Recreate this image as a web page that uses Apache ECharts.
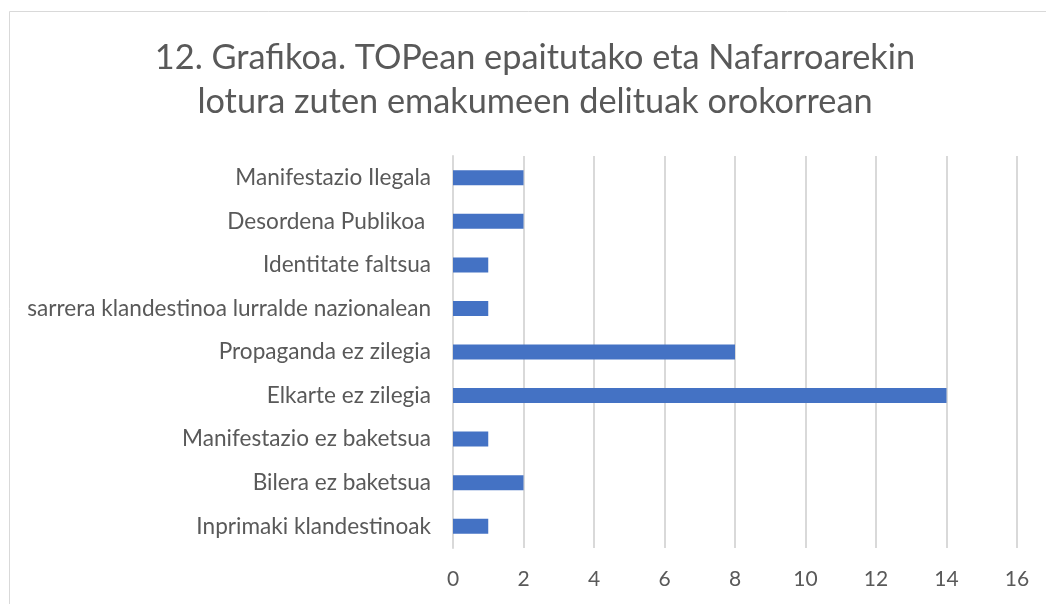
<!DOCTYPE html>
<html>
<head>
<meta charset="utf-8">
<script src="https://cdn.jsdelivr.net/npm/echarts@6/dist/echarts.min.js"></script>
<style>
html,body{margin:0;padding:0;background:#fff;}
#chart{width:1046px;height:604px;}
</style>
</head>
<body>
<div id="chart"></div>
<script>
var titleLines = ['12. Grafikoa. TOPean epaitutako eta Nafarroarekin', 'lotura zuten emakumeen delituak orokorrean'];
var categories = ['Inprimaki klandestinoak', 'Bilera ez baketsua', 'Manifestazio ez baketsua', 'Elkarte ez zilegia', 'Propaganda ez zilegia', 'sarrera klandestinoa lurralde nazionalean', 'Identitate faltsua', 'Desordena Publikoa ', 'Manifestazio Ilegala'];
var values = [1, 2, 1, 14, 8, 1, 1, 2, 2];
var xTicks = [0, 2, 4, 6, 8, 10, 12, 14, 16];

var FONT = 'Lato';
var chart = echarts.init(document.getElementById('chart'));
chart.setOption({
  animation: false,
  graphic: [
    {type: 'rect', shape: {x: 9.5, y: 11.5, width: 1200, height: 800}, style: {fill: 'none', stroke: '#D9D9D9', lineWidth: 1}},
    {type: 'text', x: 535, y: 58, style: {text: titleLines[0], fill: '#595959', font: '34.3px ' + FONT, textAlign: 'center', textVerticalAlign: 'middle'}},
    {type: 'text', x: 535, y: 102, style: {text: titleLines[1], fill: '#595959', font: '34.3px ' + FONT, textAlign: 'center', textVerticalAlign: 'middle'}}
  ],
  grid: {left: 453, right: 29, top: 156, bottom: 56, containLabel: false},
  xAxis: {
    type: 'value', min: xTicks[0], max: xTicks[xTicks.length - 1], interval: 2,
    axisLine: {show: false}, axisTick: {show: false},
    axisLabel: {color: '#595959', fontFamily: FONT, fontSize: 21, margin: 21},
    splitLine: {show: true, lineStyle: {color: '#D9D9D9', width: 2}}
  },
  yAxis: {
    type: 'category', data: categories,
    axisLine: {show: true, lineStyle: {color: '#D9D9D9', width: 2}},
    axisTick: {show: false},
    axisLabel: {color: '#595959', fontFamily: FONT, fontSize: 22.6, margin: 22}
  },
  series: [{
    type: 'bar', data: values, barWidth: 15,
    itemStyle: {color: '#4472C4'}
  }]
});
</script>
</body>
</html>
